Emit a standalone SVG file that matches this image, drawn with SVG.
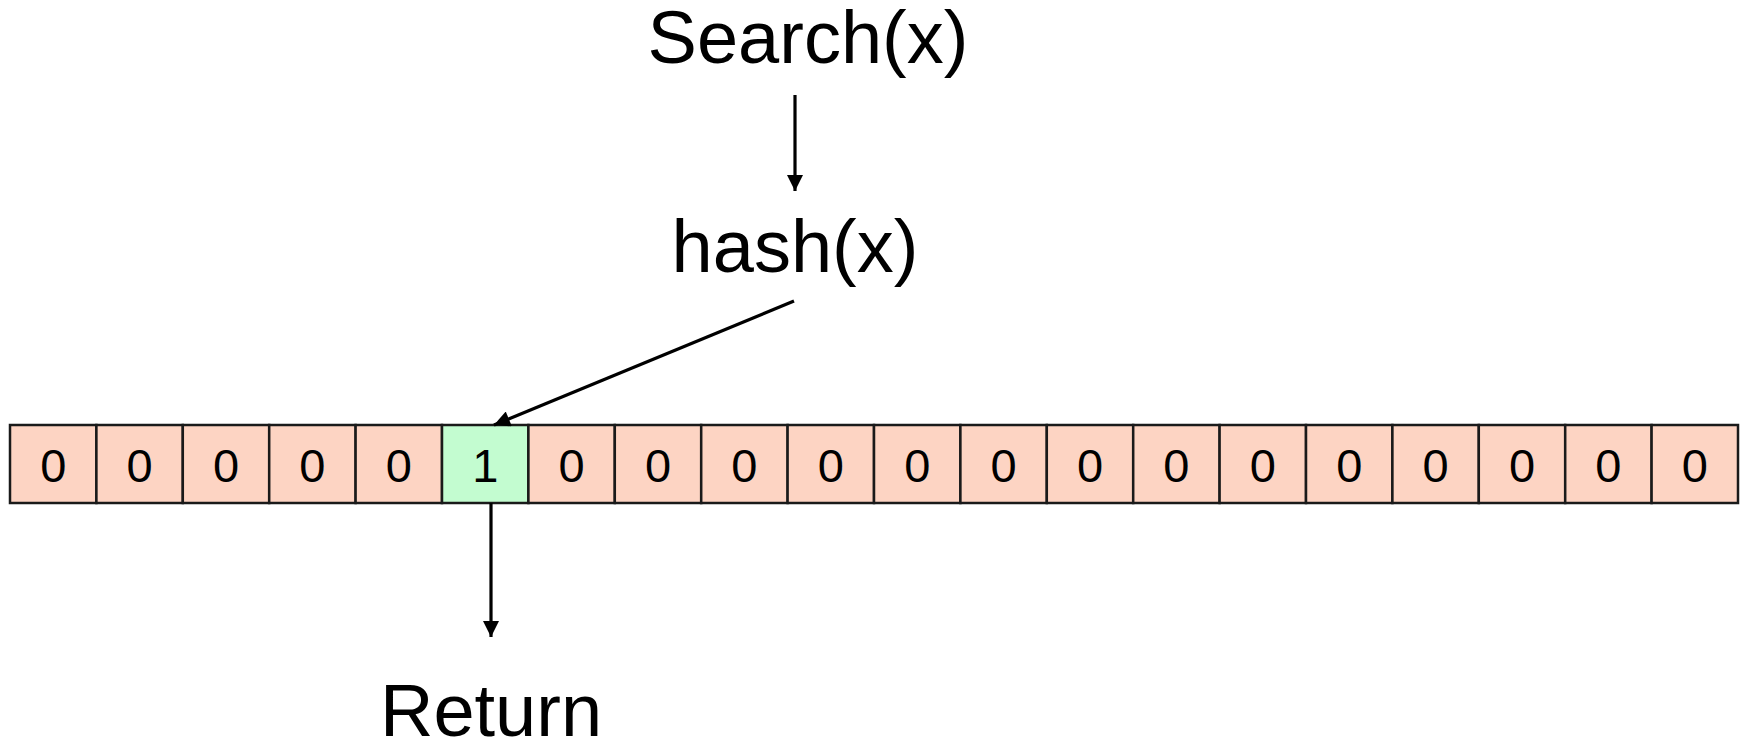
<svg xmlns="http://www.w3.org/2000/svg" width="1747" height="744" viewBox="0 0 1747 744">
  <style>
    .label { font-family: "Liberation Sans", Arial, sans-serif; font-size: 74px; fill: #000; text-anchor: middle; }
    .bit { font-family: "Liberation Sans", Arial, sans-serif; font-size: 47px; fill: #000; text-anchor: middle; }
    .cell { fill: #FDD4C3; stroke: #1a1a1a; stroke-width: 2.5; }
    .cell.hit { fill: #C3FCD0; }
    .edge { stroke: #000; stroke-width: 3.2; fill: none; marker-end: url(#arrow); }
  </style>
  <defs>
    <marker id="arrow" viewBox="0 0 10 10" refX="10" refY="5" markerWidth="5.5" markerHeight="5" markerUnits="strokeWidth" orient="auto">
      <path d="M0,0 L10,5 L0,10 z" fill="#000"/>
    </marker>
  </defs>
  <rect width="1747" height="744" fill="#fff"/>

  <g id="search">
    <text class="label" x="808" y="63">Search(x)</text>
  </g>
  <g id="hash">
    <text class="label" x="795" y="272">hash(x)</text>
  </g>

  <!-- bit array: 20 cells, 86.4 px wide -->
  <g id="bit-array">
    <g id="cell-0"><rect class="cell" x="10" y="425" width="86.4" height="78"/><text class="bit" x="53.2" y="482">0</text></g>
    <g id="cell-1"><rect class="cell" x="96.4" y="425" width="86.4" height="78"/><text class="bit" x="139.6" y="482">0</text></g>
    <g id="cell-2"><rect class="cell" x="182.8" y="425" width="86.4" height="78"/><text class="bit" x="226" y="482">0</text></g>
    <g id="cell-3"><rect class="cell" x="269.2" y="425" width="86.4" height="78"/><text class="bit" x="312.4" y="482">0</text></g>
    <g id="cell-4"><rect class="cell" x="355.6" y="425" width="86.4" height="78"/><text class="bit" x="398.8" y="482">0</text></g>
    <g id="cell-5"><rect class="cell hit" x="442" y="425" width="86.4" height="78"/><text class="bit" x="485.2" y="482">1</text></g>
    <g id="cell-6"><rect class="cell" x="528.4" y="425" width="86.4" height="78"/><text class="bit" x="571.6" y="482">0</text></g>
    <g id="cell-7"><rect class="cell" x="614.8" y="425" width="86.4" height="78"/><text class="bit" x="658" y="482">0</text></g>
    <g id="cell-8"><rect class="cell" x="701.2" y="425" width="86.4" height="78"/><text class="bit" x="744.4" y="482">0</text></g>
    <g id="cell-9"><rect class="cell" x="787.6" y="425" width="86.4" height="78"/><text class="bit" x="830.8" y="482">0</text></g>
    <g id="cell-10"><rect class="cell" x="874" y="425" width="86.4" height="78"/><text class="bit" x="917.2" y="482">0</text></g>
    <g id="cell-11"><rect class="cell" x="960.4" y="425" width="86.4" height="78"/><text class="bit" x="1003.6" y="482">0</text></g>
    <g id="cell-12"><rect class="cell" x="1046.8" y="425" width="86.4" height="78"/><text class="bit" x="1090" y="482">0</text></g>
    <g id="cell-13"><rect class="cell" x="1133.2" y="425" width="86.4" height="78"/><text class="bit" x="1176.4" y="482">0</text></g>
    <g id="cell-14"><rect class="cell" x="1219.6" y="425" width="86.4" height="78"/><text class="bit" x="1262.8" y="482">0</text></g>
    <g id="cell-15"><rect class="cell" x="1306" y="425" width="86.4" height="78"/><text class="bit" x="1349.2" y="482">0</text></g>
    <g id="cell-16"><rect class="cell" x="1392.4" y="425" width="86.4" height="78"/><text class="bit" x="1435.6" y="482">0</text></g>
    <g id="cell-17"><rect class="cell" x="1478.8" y="425" width="86.4" height="78"/><text class="bit" x="1522" y="482">0</text></g>
    <g id="cell-18"><rect class="cell" x="1565.2" y="425" width="86.4" height="78"/><text class="bit" x="1608.4" y="482">0</text></g>
    <g id="cell-19"><rect class="cell" x="1651.6" y="425" width="86.4" height="78"/><text class="bit" x="1694.8" y="482">0</text></g>
  </g>

  <g id="return">
    <text class="label" x="491" y="736">Return</text>
  </g>

  <g id="connectors">
    <line class="edge" x1="795" y1="95" x2="795" y2="191"/>
    <line class="edge" x1="794" y1="301" x2="494" y2="425"/>
    <line class="edge" x1="491" y1="503" x2="491" y2="637"/>
  </g>
</svg>
